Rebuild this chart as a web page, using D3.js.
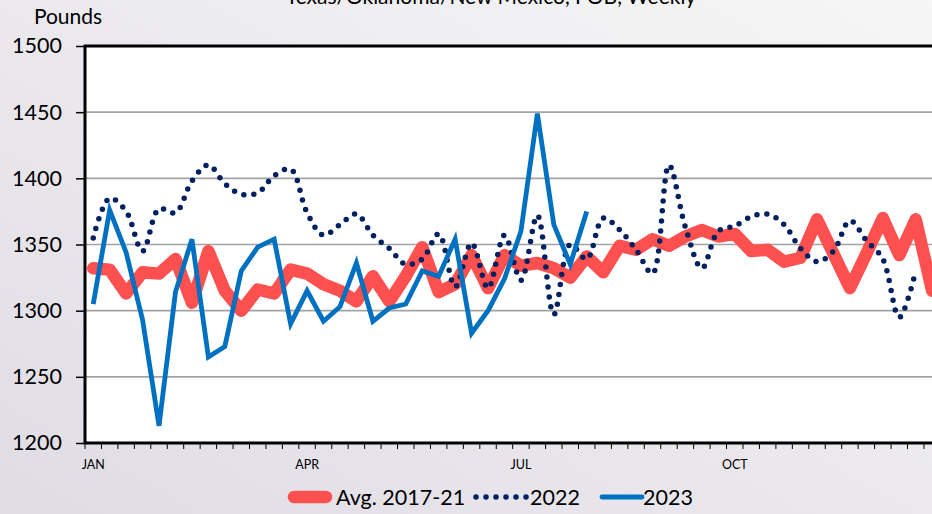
<!DOCTYPE html>
<html>
<head>
<meta charset="utf-8">
<script src="https://cdn.jsdelivr.net/npm/d3@7/dist/d3.min.js"></script>
<style>
  html, body { margin: 0; padding: 0; background: #eceaee; }
  svg { display: block; font-family: Lato, "Noto Sans", sans-serif; }
</style>
</head>
<body>
<svg id="chart" width="932" height="514"></svg>
<script>
// Week numbers along the category axis
const weeks = [1,2,3,4,5,6,7,8,9,10,11,12,13,14,15,16,17,18,19,20,21,22,23,24,25,26,
               27,28,29,30,31,32,33,34,35,36,37,38,39,40,41,42,43,44,45,46,47,48,49,50,51,52];
// Month labels and the week where each one sits
const monthLabels = ["JAN", "APR", "JUL", "OCT"];
const monthWeeks = [1, 14, 27, 40];
const yTicks = [1200, 1250, 1300, 1350, 1400, 1450, 1500];

// Weekly prices, pounds
const avg2017_21 = [1332,1331,1313,1329,1328,1339,1306,1345,1315,1300,1316,1313,1331,1328,1320,1315,
                    1307,1326,1307,1326,1348,1314,1320,1342,1317,1342,1334,1336,1332,1325,1341,1329,
                    1349,1346,1354,1349,1356,1361,1356,1358,1345,1346,1337,1340,1369,1343,1317,1343,
                    1370,1342,1369,1315];
const y2022 = [1355,1385,1375,1345,1377,1374,1398,1410,1396,1388,1389,1402,1407,1374,1357,1365,
               1373,1357,1347,1335,1339,1358,1318,1351,1317,1357,1323,1372,1297,1350,1339,1370,
               1361,1346,1328,1410,1363,1332,1360,1364,1371,1373,1365,1347,1337,1345,1368,1353,
               1339,1295,1330];
const y2023 = [1305,1376,1344,1293,1213,1314,1354,1265,1273,1330,1348,1354,1290,1315,1292,1303,
               1336,1292,1302,1305,1330,1326,1354,1283,1300,1324,1360,1449,1365,1335,1375];

const svg = d3.select("#chart");
const W = 932, H = 514;
const plot = { left: 85, top: 46, bottom: 443, right: 940.4 };

// Background wash
const defs = svg.append("defs");
const bg = defs.append("linearGradient").attr("id", "bg")
  .attr("x1", "100%").attr("y1", "0%").attr("x2", "0%").attr("y2", "100%");
bg.append("stop").attr("offset", "0%").attr("stop-color", "#f6f6f6");
bg.append("stop").attr("offset", "100%").attr("stop-color", "#e0dce5");
svg.append("rect").attr("width", W).attr("height", H).attr("fill", "url(#bg)");

const x = d3.scaleBand().domain(weeks).range([plot.left, plot.right]).padding(0);
const cx = i => x(weeks[i]) + x.bandwidth() / 2;
const y = d3.scaleLinear().domain([1200, 1500]).range([plot.bottom, plot.top]);

// Plot area
svg.append("rect")
  .attr("x", plot.left).attr("y", plot.top)
  .attr("width", plot.right - plot.left).attr("height", plot.bottom - plot.top)
  .attr("fill", "#ffffff");

// Horizontal gridlines
svg.append("g").selectAll("line")
  .data(yTicks.filter(v => v > 1200 && v < 1500))
  .join("line")
  .attr("x1", plot.left).attr("x2", plot.right)
  .attr("y1", d => y(d)).attr("y2", d => y(d))
  .attr("stroke", "#a3a3a3").attr("stroke-width", 1.6);

// Y axis
const yAxis = svg.append("g")
  .attr("transform", `translate(${plot.left},0)`)
  .call(d3.axisLeft(y).tickValues(yTicks).tickSize(9).tickPadding(14).tickFormat(d3.format("d")));
yAxis.select(".domain").remove();
yAxis.selectAll(".tick line").attr("stroke", "#000").attr("stroke-width", 1.5);
yAxis.selectAll(".tick text")
  .attr("font-family", "Lato, sans-serif").attr("font-size", 21.5).attr("fill", "#000");

// X axis: ticks at every week boundary, month names under their weeks
const boundaries = weeks.map(w => x(w)).concat([plot.right]);
svg.append("g").selectAll("line")
  .data(boundaries)
  .join("line")
  .attr("x1", d => d).attr("x2", d => d)
  .attr("y1", plot.bottom).attr("y2", plot.bottom + 6)
  .attr("stroke", "#000").attr("stroke-width", 1);

const xAxis = svg.append("g")
  .attr("transform", `translate(0,${plot.bottom})`)
  .call(d3.axisBottom(x).tickValues(monthWeeks).tickSize(0).tickPadding(17)
        .tickFormat(w => monthLabels[monthWeeks.indexOf(w)]));
xAxis.select(".domain").remove();
xAxis.selectAll(".tick text")
  .attr("font-family", "Lato, sans-serif").attr("font-size", 12.5).attr("fill", "#000");

// Series
const line = d3.line().x((d, i) => cx(i)).y(d => y(d));
const smooth = d3.line().x((d, i) => cx(i)).y(d => y(d)).curve(d3.curveCatmullRom.alpha(0.5));

const clip = defs.append("clipPath").attr("id", "clip");
clip.append("rect").attr("x", plot.left).attr("y", 0).attr("width", W).attr("height", H);
const series = svg.append("g").attr("clip-path", "url(#clip)");

series.append("path").datum(avg2017_21)
  .attr("d", line)
  .attr("fill", "none").attr("stroke", "#ff5050").attr("stroke-width", 12.5)
  .attr("stroke-linejoin", "round").attr("stroke-linecap", "round");

series.append("path").datum(y2022)
  .attr("d", smooth)
  .attr("fill", "none").attr("stroke", "#002060").attr("stroke-width", 5.5)
  .attr("stroke-linecap", "round").attr("stroke-dasharray", "0 10");

series.append("path").datum(y2023)
  .attr("d", line)
  .attr("fill", "none").attr("stroke", "#0070c0").attr("stroke-width", 4.8)
  .attr("stroke-linejoin", "miter").attr("stroke-linecap", "butt");

// Frame
svg.append("path")
  .attr("d", `M${plot.right},${plot.top}H${plot.left}V${plot.bottom}H${plot.right}`)
  .attr("fill", "none").attr("stroke", "#000").attr("stroke-width", 3);

// Titles
svg.append("text")
  .attr("x", 491).attr("y", 4)
  .attr("text-anchor", "middle")
  .attr("font-size", 21).attr("fill", "#000")
  .text("Texas/Oklahoma/New Mexico, FOB, Weekly");

svg.append("text")
  .attr("x", 68).attr("y", 24)
  .attr("text-anchor", "middle")
  .attr("font-size", 21).attr("fill", "#000")
  .text("Pounds");

// Legend
const legendItems = [
  { name: "Avg. 2017-21", color: "#ff5050", width: 12.5, dash: null, x0: 294, x1: 326, tx: 336 },
  { name: "2022", color: "#002060", width: 5.5, dash: "0 10", x0: 476, x1: 528, tx: 530 },
  { name: "2023", color: "#0070c0", width: 4.8, dash: null, x0: 602, x1: 642, tx: 643 }
];
const legend = svg.append("g");
legendItems.forEach(it => {
  legend.append("line")
    .attr("x1", it.x0).attr("x2", it.x1).attr("y1", 497).attr("y2", 497)
    .attr("stroke", it.color).attr("stroke-width", it.width)
    .attr("stroke-linecap", "round")
    .attr("stroke-dasharray", it.dash);
  legend.append("text")
    .attr("x", it.tx).attr("y", 504.5)
    .attr("font-size", 21.5).attr("fill", "#000")
    .text(it.name);
});
</script>
</body>
</html>
